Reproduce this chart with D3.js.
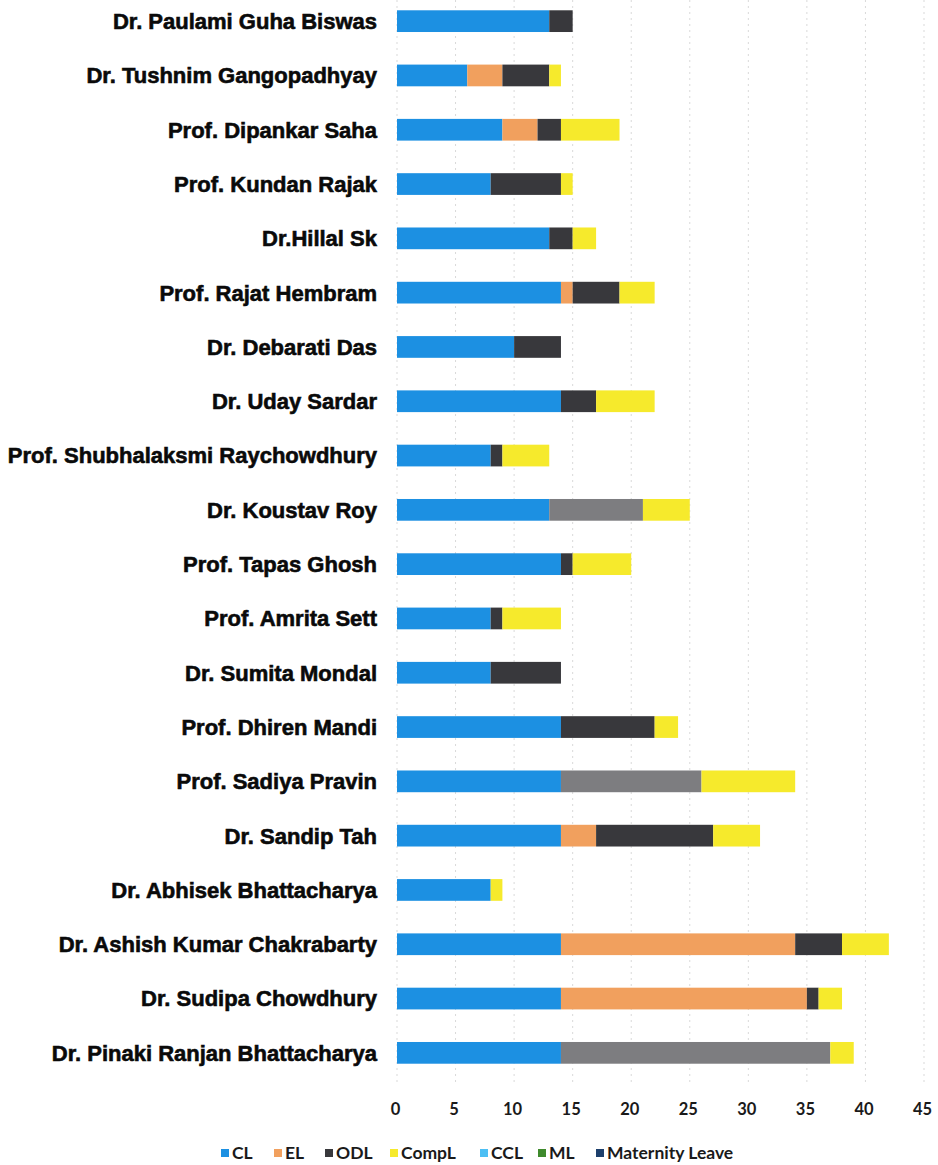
<!DOCTYPE html>
<html>
<head>
<meta charset="utf-8">
<script src="https://cdn.jsdelivr.net/npm/d3@7"></script>
<style>
  html, body { margin: 0; padding: 0; background: #ffffff; }
  svg { display: block; }
</style>
</head>
<body>
<svg id="chart" width="938" height="1165"></svg>
<script>
// ---- Data (top to bottom as shown) ----
const names = [
  "Dr. Paulami Guha Biswas",
  "Dr. Tushnim Gangopadhyay",
  "Prof. Dipankar Saha",
  "Prof. Kundan Rajak",
  "Dr.Hillal Sk",
  "Prof. Rajat Hembram",
  "Dr. Debarati Das",
  "Dr. Uday Sardar",
  "Prof. Shubhalaksmi Raychowdhury",
  "Dr. Koustav Roy",
  "Prof. Tapas Ghosh",
  "Prof. Amrita Sett",
  "Dr. Sumita Mondal",
  "Prof. Dhiren Mandi",
  "Prof. Sadiya Pravin",
  "Dr. Sandip Tah",
  "Dr. Abhisek Bhattacharya",
  "Dr. Ashish Kumar Chakrabarty",
  "Dr. Sudipa Chowdhury",
  "Dr. Pinaki Ranjan Bhattacharya"
];
const CL    = [13, 6, 9, 8, 13, 14, 10, 14, 8, 13, 14, 8, 8, 14, 14, 14, 8, 14, 14, 14];
const EL    = [0, 3, 3, 0, 0, 1, 0, 0, 0, 0, 0, 0, 0, 0, 0, 3, 0, 20, 21, 0];
const ODL   = [2, 4, 2, 6, 2, 4, 4, 3, 1, 0, 1, 1, 6, 8, 0, 10, 0, 4, 1, 0];
const GREY  = [0, 0, 0, 0, 0, 0, 0, 0, 0, 8, 0, 0, 0, 0, 12, 0, 0, 0, 0, 23];
const CompL = [0, 1, 5, 1, 2, 3, 0, 5, 4, 4, 5, 5, 0, 2, 8, 4, 1, 4, 2, 2];
const CCL   = [0, 0, 0, 0, 0, 0, 0, 0, 0, 0, 0, 0, 0, 0, 0, 0, 0, 0, 0, 0];
const ML    = [0, 0, 0, 0, 0, 0, 0, 0, 0, 0, 0, 0, 0, 0, 0, 0, 0, 0, 0, 0];
const MatL  = [0, 0, 0, 0, 0, 0, 0, 0, 0, 0, 0, 0, 0, 0, 0, 0, 0, 0, 0, 0];
const xTicks = [0, 5, 10, 15, 20, 25, 30, 35, 40, 45];
const legendLabels = ["CL", "EL", "ODL", "CompL", "CCL", "ML", "Maternity Leave"];

// ---- Series definition ----
const seriesKeys = ["CL", "EL", "ODL", "GREY", "CompL", "CCL", "ML", "Maternity Leave"];
const seriesData = { "CL": CL, "EL": EL, "ODL": ODL, "GREY": GREY, "CompL": CompL, "CCL": CCL, "ML": ML, "Maternity Leave": MatL };
const colors = {
  "CL": "#1c90e2",
  "EL": "#f1a05e",
  "ODL": "#38383c",
  "GREY": "#7d7d80",
  "CompL": "#f6ea2c",
  "CCL": "#4cbff4",
  "ML": "#3f8a2c",
  "Maternity Leave": "#1d3f6c"
};

const rows = names.map((n, i) => {
  const r = { name: n };
  seriesKeys.forEach(k => r[k] = seriesData[k][i]);
  return r;
});

const svg = d3.select("#chart");

const x = d3.scaleLinear().domain([0, 45]).range([397, 924]);
const y = d3.scaleBand().domain(names).range([-6, 1080]).paddingInner(0.6).paddingOuter(0.3);

// gridlines
svg.append("g")
  .selectAll("line")
  .data(xTicks)
  .join("line")
  .attr("x1", d => x(d)).attr("x2", d => x(d))
  .attr("y1", 0).attr("y2", 1082)
  .attr("stroke", "#d9d9d9")
  .attr("stroke-width", 1)
  .attr("stroke-dasharray", "2,4");

// bars
const stacked = d3.stack().keys(seriesKeys)(rows);

svg.append("g")
  .selectAll("g")
  .data(stacked)
  .join("g")
  .attr("fill", d => colors[d.key])
  .selectAll("rect")
  .data(d => d.filter(s => s[1] - s[0] > 0))
  .join("rect")
  .attr("x", d => x(d[0]))
  .attr("width", d => x(d[1]) - x(d[0]))
  .attr("y", d => y(d.data.name))
  .attr("height", y.bandwidth());

// category labels
svg.append("g")
  .selectAll("text")
  .data(names)
  .join("text")
  .attr("x", 377)
  .attr("y", d => y(d) + y.bandwidth() / 2)
  .attr("dy", "0.36em")
  .attr("text-anchor", "end")
  .attr("font-family", "'Liberation Sans', Arial, sans-serif")
  .attr("font-weight", "bold")
  .attr("font-size", 22)
  .attr("fill", "#0a0a0a")
  .attr("stroke", "#0a0a0a")
  .attr("stroke-width", 0.6)
  .style("letter-spacing", "0px")
  .text(d => d);

// x axis tick labels
const xAxis = d3.axisBottom(x).tickValues(xTicks).tickSize(0).tickPadding(0);
const ax = svg.append("g").attr("transform", "translate(-2,1103)").call(xAxis);
ax.select(".domain").remove();
ax.selectAll("text")
  .attr("font-family", "Lato, 'Open Sans', sans-serif")
  .attr("font-weight", "bold")
  .attr("font-size", 16.5)
  .attr("fill", "#1a1a1a");

// legend
const legendX = [221, 274, 325, 390, 480, 538, 596];
const lg = svg.append("g").attr("transform", "translate(0,1153)");
const items = lg.selectAll("g")
  .data(legendLabels)
  .join("g")
  .attr("transform", (d, i) => `translate(${legendX[i]},0)`);
items.append("rect")
  .attr("x", 0).attr("y", -4)
  .attr("width", 8).attr("height", 8)
  .attr("fill", d => colors[d]);
items.append("text")
  .attr("x", 11)
  .attr("y", 0)
  .attr("dy", "0.36em")
  .attr("font-family", "Lato, 'Open Sans', sans-serif")
  .attr("font-weight", "bold")
  .attr("font-size", 17.5)
  .attr("fill", "#1a1a1a")
  .text(d => d);
</script>
</body>
</html>
